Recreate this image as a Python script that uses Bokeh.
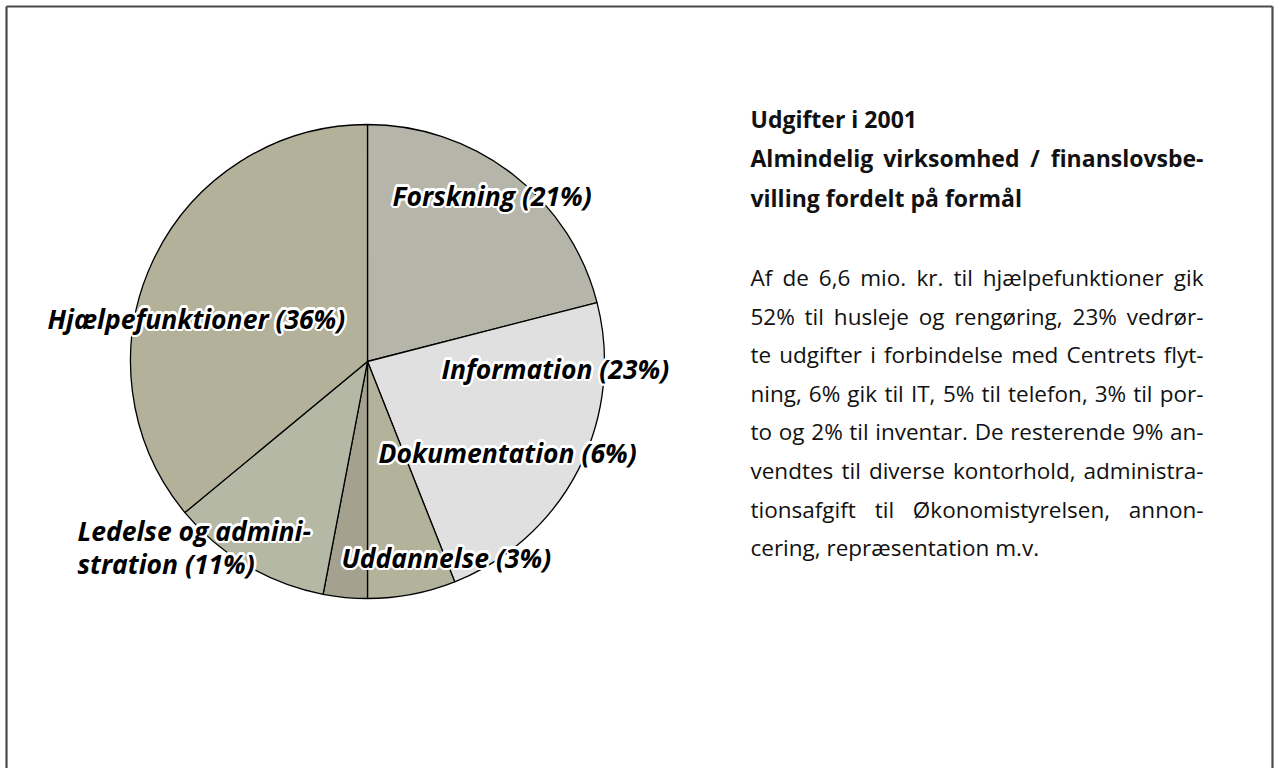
import math
from bokeh.plotting import figure
from bokeh.models import Range1d, ColumnDataSource
from bokeh.core.properties import value
from bokeh.embed import file_html
from bokeh.resources import INLINE

# ---------------- data ----------------
categories = ["Forskning", "Information", "Dokumentation", "Uddannelse",
              "Ledelse og administration", "Hjælpefunktioner"]
shares = [21, 23, 6, 3, 11, 36]
colors = ["#b6b5aa", "#e0e0e0", "#b3b29b", "#a4a28e", "#b5b8a5", "#b3b199"]
label_lines = [["Forskning (21%)"], ["Information (23%)"], ["Dokumentation (6%)"],
               ["Uddannelse (3%)"], ["Ledelse og admini-", "stration (11%)"],
               ["Hjælpefunktioner (36%)"]]

title_lines = ["Udgifter i 2001",
               "Almindelig virksomhed / finanslovsbe-",
               "villing fordelt på formål"]
title_justify = [False, True, False]
body_lines = ["Af de 6,6 mio. kr. til hjælpefunktioner gik",
              "52% til husleje og rengøring, 23% vedrør-",
              "te udgifter i forbindelse med Centrets flyt-",
              "ning, 6% gik til IT, 5% til telefon, 3% til por-",
              "to og 2% til inventar. De resterende 9% an-",
              "vendtes til diverse kontorhold, administra-",
              "tionsafgift til Økonomistyrelsen, annon-",
              "cering, repræsentation m.v."]
body_justify = [True, True, True, True, True, True, True, False]

# ---------------- approximate glyph advances (Open Sans, units of 1/2048 em) ----------------
REG = {" ": 532, "%": 1679, "(": 606, ")": 606, ",": 502, "-": 659, ".": 545, "/": 752,
       "A": 1296, "C": 1292, "D": 1473, "I": 621, "T": 1139, "Ø": 1593, "U": 1458,
       "a": 1139, "b": 1255, "c": 975, "d": 1255, "e": 1149, "f": 694, "g": 1122,
       "h": 1257, "i": 518, "j": 518, "k": 1075, "l": 518, "m": 1905, "n": 1257,
       "o": 1237, "p": 1255, "r": 836, "s": 977, "t": 723, "u": 1257, "v": 1026,
       "y": 1030, "æ": 1757, "ø": 1237, "å": 1139}
BOLD = {" ": 532, "/": 836, "-": 659, "A": 1380, "U": 1470,
        "a": 1208, "b": 1290, "d": 1290, "e": 1208, "f": 791, "g": 1141, "h": 1320,
        "i": 608, "k": 1251, "l": 608, "m": 1960, "n": 1320, "o": 1255, "p": 1290,
        "r": 913, "s": 1042, "t": 815, "u": 1320, "v": 1161, "y": 1161, "å": 1208}

def est_w(s, table, size):
    return sum(table.get(ch, 1171) for ch in s) / 2048.0 * size

# ---------------- layout ----------------
W, H = 1278, 768
def sy(y):
    return H - y

p = figure(width=W, height=H, x_range=Range1d(0, W), y_range=Range1d(0, H),
           output_backend="svg", toolbar_location=None, min_border=0)
p.axis.visible = False
p.grid.visible = False
p.outline_line_color = None
p.background_fill_color = "white"

# frame
p.multi_line(xs=[[6, 6], [6, 1272], [1272, 1272]],
             ys=[[sy(790), sy(6)], [sy(6), sy(6)], [sy(6), sy(790)]],
             line_color="#4a4a4a", line_width=2.2)

# pie
cx, cy, r = 367, sy(361), 237
total = float(sum(shares))
starts, ends = [], []
cum = 0.0
for s in shares:
    a0 = math.pi / 2 - 2 * math.pi * cum / total
    cum += s
    a1 = math.pi / 2 - 2 * math.pi * cum / total
    starts.append(a0)
    ends.append(a1)
src = ColumnDataSource(dict(start=starts, end=ends, color=colors, cat=categories, share=shares))
p.wedge(x=cx, y=cy, radius=r, start_angle="start", end_angle="end", direction="clock",
        fill_color="color", line_color="black", line_width=1.3, source=src)

# labels (left x, center y in screen px)
label_pos = [(392, 195), (441, 368), (378, 452), (341, 557), (77, 530), (47, 318)]
line_gap = 33
lx, ly, lt = [], [], []
for lines, (x0, y0) in zip(label_lines, label_pos):
    for i, t in enumerate(lines):
        lx.append(x0)
        ly.append(sy(y0 + i * line_gap))
        lt.append(t)

halo_x, halo_y, halo_t, halo_dx, halo_dy = [], [], [], [], []
n = 16
for k in range(n):
    ang = 2 * math.pi * k / n
    dx, dy = 2.4 * math.cos(ang), 2.4 * math.sin(ang)
    for x, y, t in zip(lx, ly, lt):
        halo_x.append(x); halo_y.append(y); halo_t.append(t)
        halo_dx.append(dx); halo_dy.append(dy)
lab_font = dict(text_font=value("Open Sans"), text_font_style="bold italic",
                text_font_size="26.5px", text_baseline="middle", text_align="left")
p.text(x="x", y="y", text="t", x_offset="dx", y_offset="dy",
       source=ColumnDataSource(dict(x=halo_x, y=halo_y, t=halo_t, dx=halo_dx, dy=halo_dy)),
       text_color="white", **lab_font)
p.text(x="x", y="y", text="t", source=ColumnDataSource(dict(x=lx, y=ly, t=lt)),
       text_color="black", **lab_font)

# right text block (justified word placement)
left_x, right_x = 750, 1203

def set_block(lines, justify, ys, table, size, style):
    L = dict(x=[], y=[], t=[])
    R = dict(x=[], y=[], t=[])
    for line, jf, yy in zip(lines, justify, ys):
        if not jf:
            L["x"].append(left_x); L["y"].append(sy(yy)); L["t"].append(line)
            continue
        words = line.split(" ")
        ws = [est_w(w, table, size) for w in words]
        gap = (right_x - left_x - sum(ws)) / (len(words) - 1)
        xpos = left_x
        for i, (w, ww) in enumerate(zip(words, ws)):
            if i == len(words) - 1:
                R["x"].append(right_x); R["y"].append(sy(yy)); R["t"].append(w)
            else:
                L["x"].append(xpos); L["y"].append(sy(yy)); L["t"].append(w)
            xpos += ww + gap
    common = dict(text_font=value("Open Sans"), text_font_style=style,
                  text_font_size="%spx" % size, text_baseline="middle", text_color="#111111")
    p.text(x="x", y="y", text="t", source=ColumnDataSource(L), text_align="left", **common)
    p.text(x="x", y="y", text="t", source=ColumnDataSource(R), text_align="right", **common)

title_y = [118, 157, 197]
set_block(title_lines, title_justify, title_y, BOLD, 23, "bold")
body_y = [277 + 38.6 * i for i in range(len(body_lines))]
set_block(body_lines, body_justify, body_y, REG, 22.5, "normal")

open("out.html", "w").write(file_html(p, INLINE))
